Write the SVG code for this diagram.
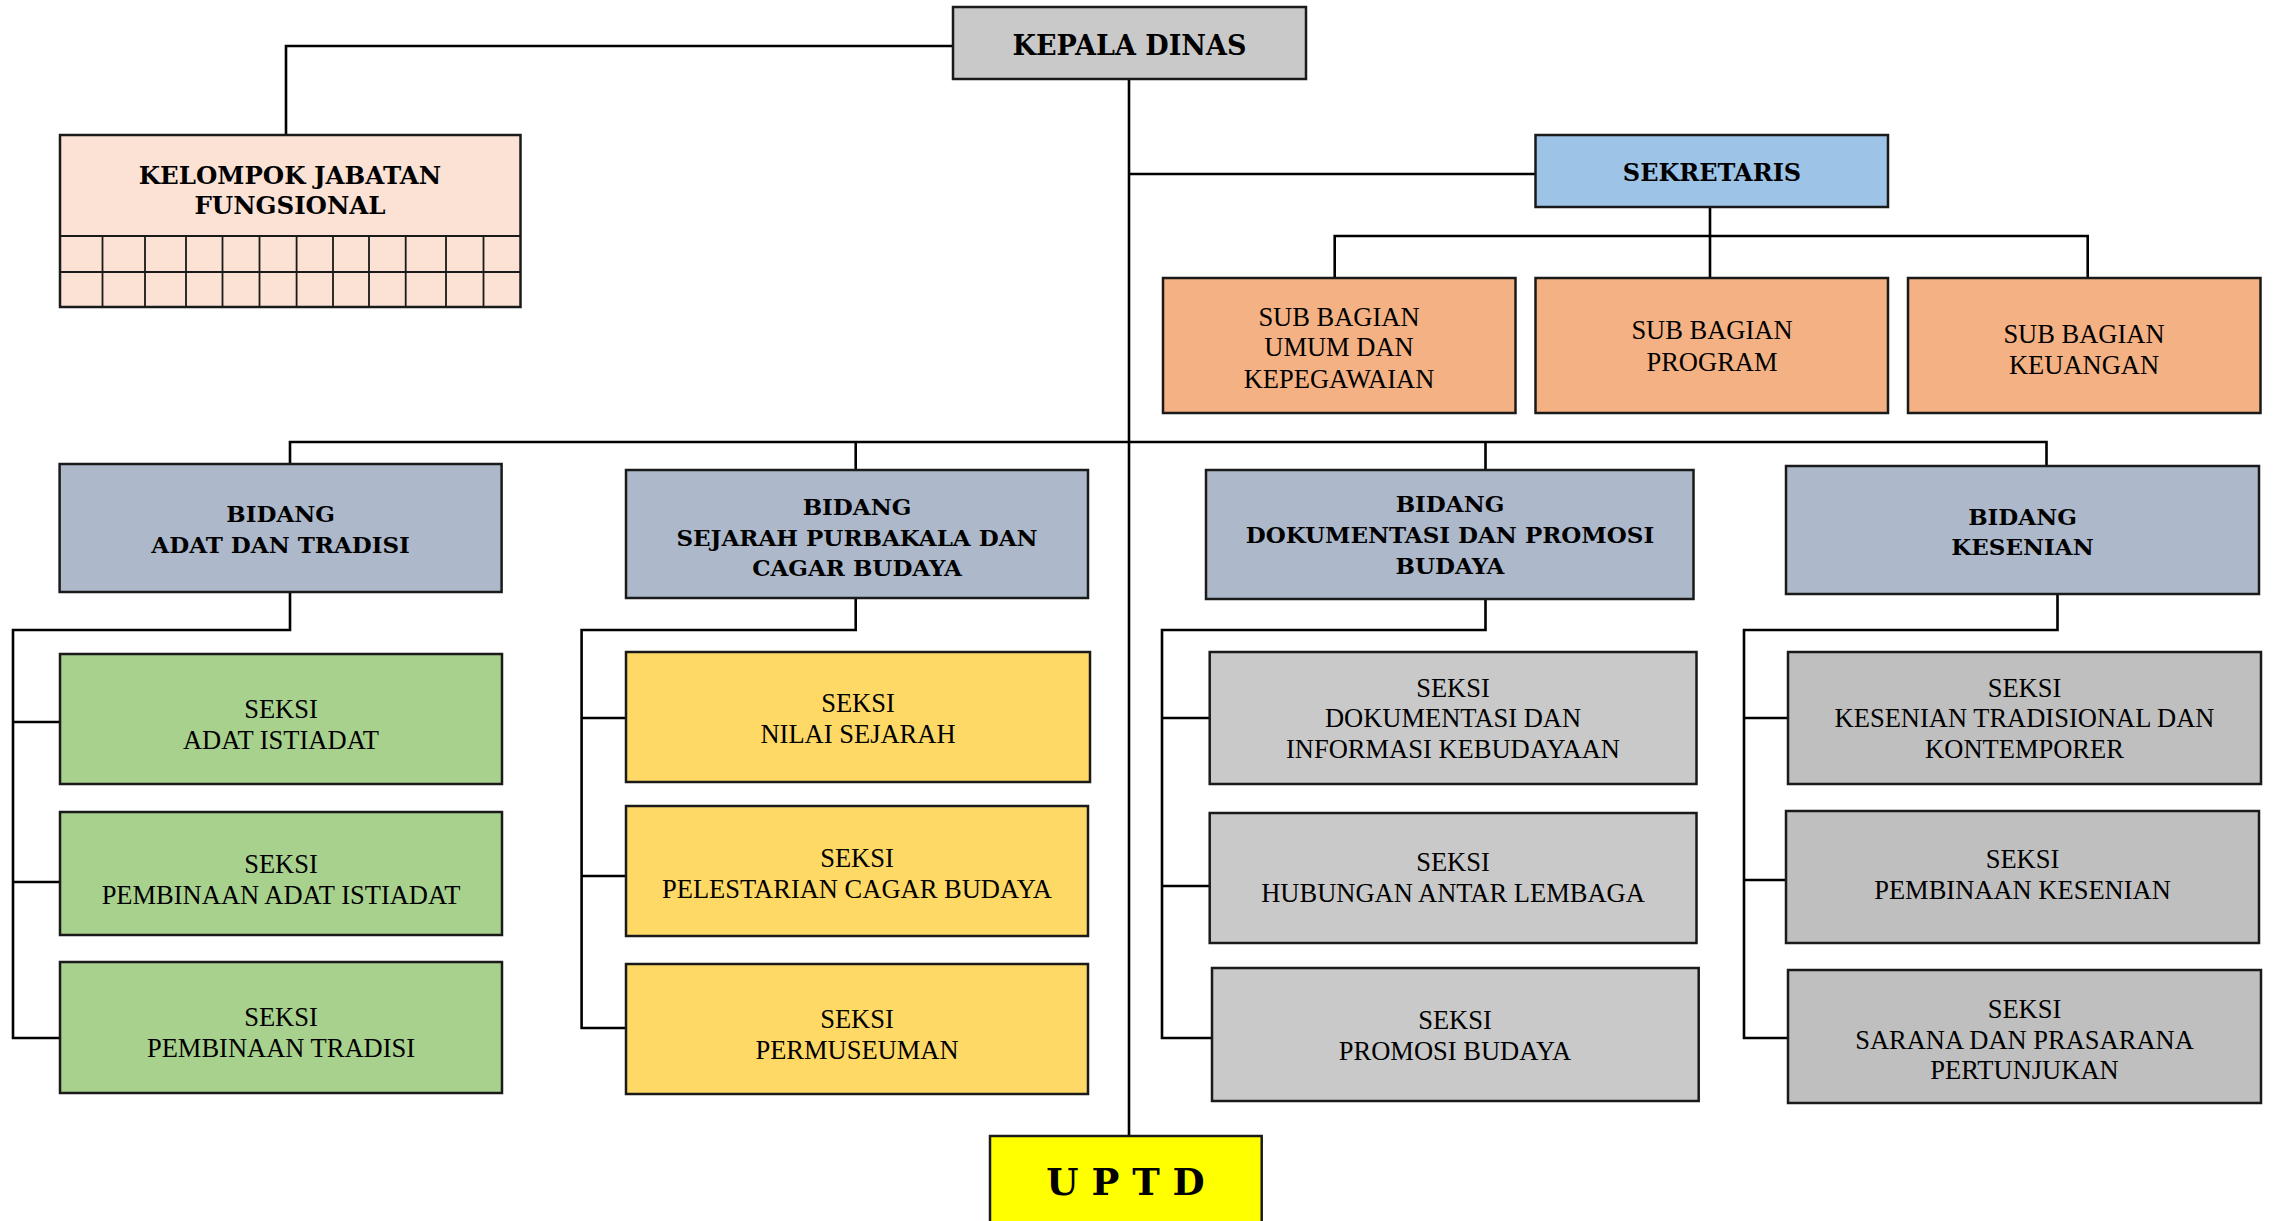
<svg xmlns="http://www.w3.org/2000/svg" width="2273" height="1221" viewBox="0 0 2273 1221">
<style>
.bx{stroke:#1a1a1a;stroke-width:2.5}
.ln{stroke:#000;stroke-width:2.6;fill:none}
.gr{stroke:#1a1a1a;stroke-width:1.8}
.r{font-family:"Liberation Serif","Times New Roman",serif;font-size:26.5px;fill:#000;text-anchor:middle}
.b{font-family:"DejaVu Serif","Liberation Serif",serif;font-weight:bold;font-size:23px;fill:#000;text-anchor:middle}
.b24{font-size:24px}
.b27{font-size:27px}
.bk{font-size:24.5px}
.kd{fill:#c9c9c9}.kjf{fill:#fbe2d5}.sek{fill:#9dc3e6}.sub{fill:#f4b183}.bid{fill:#adb9ca}
.c1{fill:#a9d18e}.c2{fill:#ffd966}.c3{fill:#c9c9c9}.c4{fill:#bfbfbf}.up{fill:#ffff00}
</style>
<rect width="2273" height="1221" fill="#fff"/>
<g id="connectors">
<path class="ln" d="M1129 79V1136"/>
<path class="ln" d="M953 46H286V135"/>
<path class="ln" d="M1129 174H1535.5"/>
<path class="ln" d="M1710 207V278M1334.7 278V236H2087.7V278"/>
<path class="ln" d="M290 464V442H2046.5V466M855.7 442V470M1485.5 442V470"/>
<path class="ln" d="M290 592V630H13V1038H60M13 722H60M13 882H60"/>
<path class="ln" d="M855.7 598V630H581.6V1028H626M581.6 718H626M581.6 876H626"/>
<path class="ln" d="M1485.5 599V630H1162V1038H1212M1162 718H1210M1162 886H1210"/>
<path class="ln" d="M2057.5 594V630H1744V1038H1788M1744 718H1788M1744 880H1786"/>
</g>
<g id="kepala-dinas">
<rect class="bx kd" x="953" y="7" width="353" height="72"/>
<text class="b b27" x="1129.5" y="55">KEPALA DINAS</text>
</g>
<g id="kelompok-jabatan-fungsional">
<rect class="bx kjf" x="60" y="135" width="460.5" height="172"/>
<text class="b bk" x="290" y="184">KELOMPOK JABATAN</text>
<text class="b bk" x="290" y="214">FUNGSIONAL</text>
<path class="gr" d="M60 236H520.5M60 272H520.5M102.5 236V307M145 236V307M186 236V307M222.5 236V307M259.5 236V307M296.6 236V307M333 236V307M369 236V307M405.7 236V307M446 236V307M483.5 236V307"/>
</g>
<g id="sekretaris">
<rect class="bx sek" x="1535.5" y="135" width="352.5" height="72"/>
<text class="b b24" x="1712" y="181">SEKRETARIS</text>
</g>
<g id="sub-umum">
<rect class="bx sub" x="1163" y="278" width="352.5" height="135"/>
<text class="r" x="1339" y="326">SUB BAGIAN</text>
<text class="r" x="1339" y="356">UMUM DAN</text>
<text class="r" x="1339" y="388">KEPEGAWAIAN</text>
</g>
<g id="sub-program">
<rect class="bx sub" x="1535.5" y="278" width="352.5" height="135"/>
<text class="r" x="1712" y="339">SUB BAGIAN</text>
<text class="r" x="1712" y="371">PROGRAM</text>
</g>
<g id="sub-keuangan">
<rect class="bx sub" x="1908" y="278" width="352.5" height="135"/>
<text class="r" x="2084" y="343">SUB BAGIAN</text>
<text class="r" x="2084" y="374">KEUANGAN</text>
</g>
<g id="bidang-adat">
<rect class="bx bid" x="59.6" y="464" width="442" height="128"/>
<text class="b" x="280.6" y="521.7">BIDANG</text>
<text class="b" x="280.6" y="552.7">ADAT DAN TRADISI</text>
</g>
<g id="bidang-sejarah">
<rect class="bx bid" x="626" y="470" width="462" height="128"/>
<text class="b" x="857" y="515">BIDANG</text>
<text class="b" x="857" y="546">SEJARAH PURBAKALA DAN</text>
<text class="b" x="857" y="575.7">CAGAR BUDAYA</text>
</g>
<g id="bidang-dokumentasi">
<rect class="bx bid" x="1206" y="470" width="487.5" height="129"/>
<text class="b" x="1450" y="511.7">BIDANG</text>
<text class="b" x="1450" y="542.7">DOKUMENTASI DAN PROMOSI</text>
<text class="b" x="1450" y="574">BUDAYA</text>
</g>
<g id="bidang-kesenian">
<rect class="bx bid" x="1786" y="466" width="473" height="128"/>
<text class="b" x="2022.5" y="525">BIDANG</text>
<text class="b" x="2022.5" y="555">KESENIAN</text>
</g>
<g id="seksi-adat-istiadat">
<rect class="bx c1" x="60" y="654" width="442" height="130"/>
<text class="r" x="281" y="717.7">SEKSI</text>
<text class="r" x="281" y="749">ADAT ISTIADAT</text>
</g>
<g id="seksi-pembinaan-adat">
<rect class="bx c1" x="60" y="812" width="442" height="123"/>
<text class="r" x="281" y="872.7">SEKSI</text>
<text class="r" x="281" y="904.3">PEMBINAAN ADAT ISTIADAT</text>
</g>
<g id="seksi-pembinaan-tradisi">
<rect class="bx c1" x="60" y="962" width="442" height="131"/>
<text class="r" x="281" y="1025.7">SEKSI</text>
<text class="r" x="281" y="1056.7">PEMBINAAN TRADISI</text>
</g>
<g id="seksi-nilai-sejarah">
<rect class="bx c2" x="626" y="652" width="464" height="130"/>
<text class="r" x="858" y="711.7">SEKSI</text>
<text class="r" x="858" y="743.3">NILAI SEJARAH</text>
</g>
<g id="seksi-pelestarian">
<rect class="bx c2" x="626" y="806" width="462" height="130"/>
<text class="r" x="857" y="866.7">SEKSI</text>
<text class="r" x="857" y="898.3">PELESTARIAN CAGAR BUDAYA</text>
</g>
<g id="seksi-permuseuman">
<rect class="bx c2" x="626" y="964" width="462" height="130"/>
<text class="r" x="857" y="1027.7">SEKSI</text>
<text class="r" x="857" y="1059">PERMUSEUMAN</text>
</g>
<g id="seksi-dokumentasi">
<rect class="bx c3" x="1209.7" y="652" width="486.8" height="132"/>
<text class="r" x="1453" y="696.7">SEKSI</text>
<text class="r" x="1453" y="727.3">DOKUMENTASI DAN</text>
<text class="r" x="1453" y="758.3">INFORMASI KEBUDAYAAN</text>
</g>
<g id="seksi-hubungan">
<rect class="bx c3" x="1209.7" y="813" width="486.8" height="130"/>
<text class="r" x="1453" y="870.7">SEKSI</text>
<text class="r" x="1453" y="901.7">HUBUNGAN ANTAR LEMBAGA</text>
</g>
<g id="seksi-promosi">
<rect class="bx c3" x="1212" y="968" width="486.7" height="133"/>
<text class="r" x="1455" y="1029.3">SEKSI</text>
<text class="r" x="1455" y="1060">PROMOSI BUDAYA</text>
</g>
<g id="seksi-kesenian-tradisional">
<rect class="bx c4" x="1788" y="652" width="473" height="132"/>
<text class="r" x="2024.5" y="696.7">SEKSI</text>
<text class="r" x="2024.5" y="727.3">KESENIAN TRADISIONAL DAN</text>
<text class="r" x="2024.5" y="758.3">KONTEMPORER</text>
</g>
<g id="seksi-pembinaan-kesenian">
<rect class="bx c4" x="1786" y="811" width="473" height="132"/>
<text class="r" x="2022.5" y="868.3">SEKSI</text>
<text class="r" x="2022.5" y="899.3">PEMBINAAN KESENIAN</text>
</g>
<g id="seksi-sarana">
<rect class="bx c4" x="1788" y="970" width="473" height="133"/>
<text class="r" x="2024.5" y="1017.7">SEKSI</text>
<text class="r" x="2024.5" y="1048.7">SARANA DAN PRASARANA</text>
<text class="r" x="2024.5" y="1079.3">PERTUNJUKAN</text>
</g>
<g id="uptd">
<rect class="bx up" x="990" y="1136" width="271.7" height="100"/>
<text class="b" style="font-size:37px" x="1125.5" y="1195">U P T D</text>
</g>
</svg>
